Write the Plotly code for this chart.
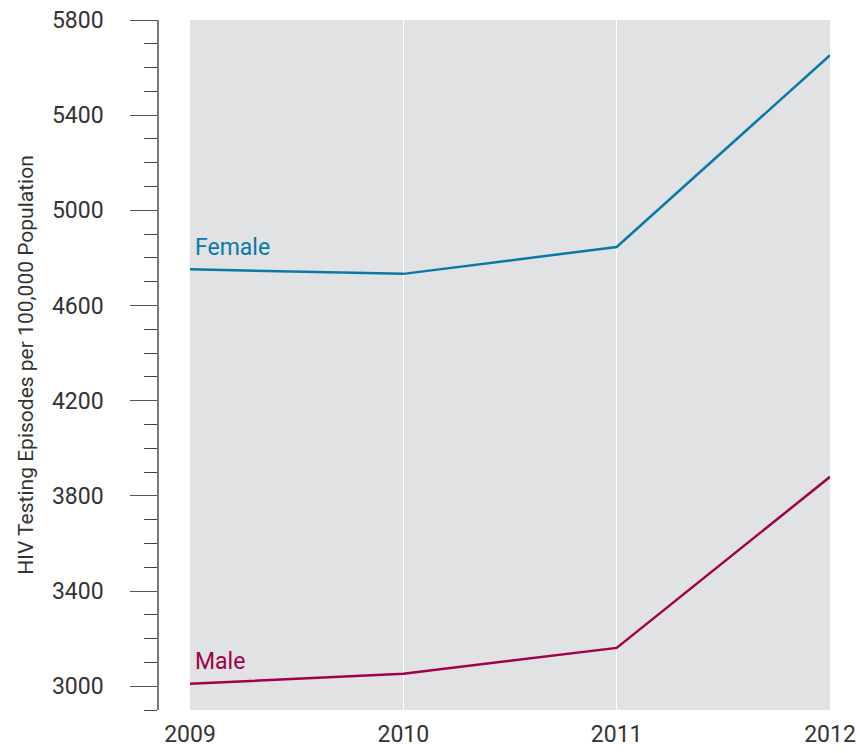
import plotly.graph_objects as go

years = [2009, 2010, 2011, 2012]
female = [4752, 4733, 4846, 5652]
male = [3010, 3052, 3161, 3880]
y_ticks = [3000, 3400, 3800, 4200, 4600, 5000, 5400, 5800]

FONT = "Roboto, sans-serif"
F_COL = "#0a79a6"
M_COL = "#a1004a"

fig = go.Figure()
fig.add_trace(go.Scatter(x=years, y=female, mode="lines",
                         line=dict(color=F_COL, width=2.5), showlegend=False))
fig.add_trace(go.Scatter(x=years, y=male, mode="lines",
                         line=dict(color=M_COL, width=2.5), showlegend=False))

fig.add_annotation(x=2009, y=4842, text="Female", showarrow=False, xanchor="left",
                   xshift=3, font=dict(family=FONT, size=23, color=F_COL))
fig.add_annotation(x=2009, y=3103, text="Male", showarrow=False, xanchor="left",
                   xshift=3, font=dict(family=FONT, size=23, color=M_COL))

fig.update_layout(
    width=860, height=753,
    margin=dict(l=158, r=30, t=20, b=43, autoexpand=False),
    paper_bgcolor="white",
    plot_bgcolor="#e1e2e4",
    font=dict(family=FONT, color="#333333"),
    xaxis=dict(
        domain=[32 / 672, 1],
        range=[2009, 2012],
        tickvals=years,
        ticktext=[str(y) for y in years],
        showgrid=True, gridcolor="white", gridwidth=1,
        showline=False, zeroline=False, ticks="",
        tickfont=dict(family=FONT, size=23, color="#333333"),
        ticklabelstandoff=8,
        ticklabeloverflow="allow",
        automargin=False,
    ),
    yaxis=dict(
        range=[2900, 5800],
        anchor="free", position=0,
        tickmode="array", tickvals=y_ticks,
        showgrid=False, zeroline=False,
        showline=True, linecolor="#7a7a7a", linewidth=1.5,
        ticks="outside", ticklen=27, tickcolor="#555555", tickwidth=1.2,
        tickfont=dict(family=FONT, size=23, color="#333333"),
        ticklabelstandoff=22,
        ticklabeloverflow="allow",
        automargin=False,
        minor=dict(dtick=100, tick0=2900, ticks="outside", ticklen=13,
                   tickcolor="#444444", tickwidth=1.2, showgrid=False),
        title=dict(text="HIV Testing Episodes per 100,000 Population",
                   font=dict(family=FONT, size=21, color="#333333"), standoff=12),
    ),
)

fig.write_html("out.html",
               config={"displayModeBar": False},
               post_script="document.body.style.margin='0';document.body.style.overflow='hidden';")
